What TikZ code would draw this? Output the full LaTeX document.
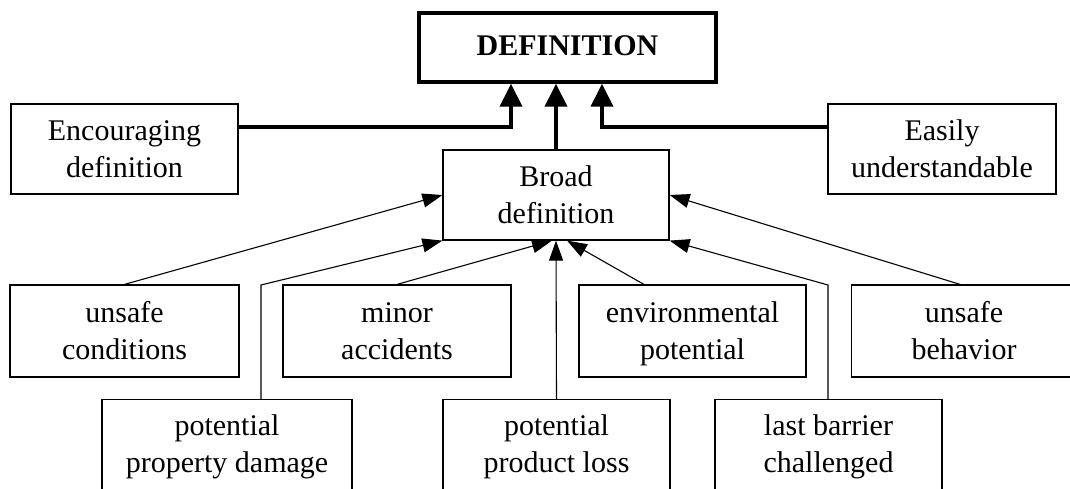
\documentclass[tikz,border=0pt]{standalone}
\usepackage{fontspec}
\setmainfont{Liberation Serif}
\usetikzlibrary{arrows.meta,calc}
\newcommand{\tstrut}{\rule[-8pt]{0pt}{36pt}}
\tikzset{
  box/.style={draw, line width=1.2pt, rectangle, inner sep=0pt, align=center,
    font=\fontsize{30}{35}\selectfont},
  txt/.style={inner sep=0pt, align=center, font=\fontsize{30}{35}\selectfont},
  thickarrow/.style={line width=4pt, -{Triangle[length=23pt,width=22pt]}},
  thinarrow/.style={line width=1.1pt, -{Triangle[length=20pt,width=14pt]}}
}
\begin{document}
\begin{tikzpicture}[x=1pt,y=-1pt]
\useasboundingbox (0,0) rectangle (1070,489);
\clip (0,0) rectangle (1070,489);
% top
\node[box, line width=3.5pt, minimum width=297pt, minimum height=69pt] (def) at (567.5,47.5) {\raisebox{4pt}{\textbf{DEFINITION}}};
\node[box, minimum width=227pt, minimum height=90pt] (enc) at (124.5,149) {\tstrut Encouraging\\\tstrut definition};
\node[box, minimum width=228pt, minimum height=90pt] (easy) at (942,149) {\tstrut Easily\\\tstrut understandable};
\node[box, minimum width=226pt, minimum height=90pt] (broad) at (556,195) {\tstrut Broad\\\tstrut definition};
% row 2
\node[box, minimum width=229pt, minimum height=92pt] (uc) at (124.5,331) {\tstrut unsafe\\\tstrut conditions};
\node[box, minimum width=228pt, minimum height=92pt] (minor) at (397,331) {\tstrut minor\\\tstrut accidents};
\node[box, minimum width=227pt, minimum height=92pt] (env) at (692.5,331) {\tstrut environmental\\\tstrut potential};
\node[box, minimum width=228pt, minimum height=92pt, anchor=west] (ub) at (851,331) {};
\node[txt] (ubt) at (964,331) {\tstrut unsafe\\\tstrut behavior};
% row 3 (boxes run past the lower edge)
\node[box, minimum width=250pt, minimum height=120pt, anchor=north] (ppd) at (227,399) {};
\node[txt] (ppdt) at ([yshift=-45pt]ppd.north) {\tstrut potential\\\tstrut property damage};
\node[box, minimum width=227pt, minimum height=120pt, anchor=north] (pl) at (556.5,399) {};
\node[txt] (plt) at ([yshift=-45pt]pl.north) {\tstrut potential\\\tstrut product loss};
\node[box, minimum width=227pt, minimum height=120pt, anchor=north] (lb) at (828.5,399) {};
\node[txt] (lbt) at ([yshift=-45pt]lb.north) {\tstrut last barrier\\\tstrut challenged};
% thick connectors
\coordinate (hl) at (0,127);
\coordinate (dl) at ([xshift=-45pt]broad.north);
\coordinate (dr) at ([xshift=46pt]broad.north);
\draw[thickarrow] (enc.east |- hl) -| (dl |- def.south);
\draw[thickarrow] (easy.west |- hl) -| (dr |- def.south);
\draw[thickarrow] (broad.north) -- (broad.north |- def.south);
% thin connectors
\coordinate (p1) at (261,285);
\coordinate (p6) at (828,285);
\coordinate (e1) at (645,285);
\coordinate (u1) at (962,285);
\draw[thinarrow] (uc.north) -- (broad.west);
\draw[thinarrow] (p1 |- ppd.north) -- (p1) -- (broad.south west);
\draw[thinarrow] (minor.north) -- ([xshift=-4pt]broad.south);
\draw[thinarrow] (pl.north) -- (broad.south);
\draw[thinarrow] (e1) -- ([xshift=11pt]broad.south);
\draw[thinarrow] (p6 |- lb.north) -- (p6) -- (broad.south east);
\draw[thinarrow] (u1) -- (broad.east);
\end{tikzpicture}
\end{document}
